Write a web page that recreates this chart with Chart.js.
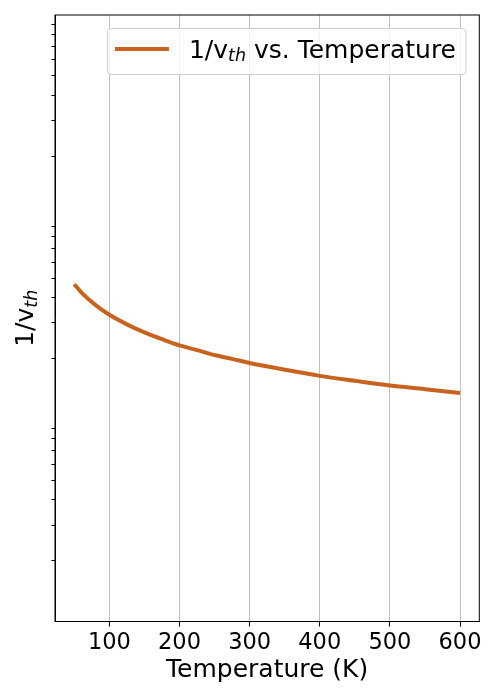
<!DOCTYPE html>
<html>
<head>
<meta charset="utf-8">
<script src="https://cdn.jsdelivr.net/npm/chart.js@4"></script>
<style>
  html, body { margin: 0; padding: 0; background: #fff; }
  #wrap { width: 500px; height: 700px; }
</style>
</head>
<body>
<div id="wrap"><canvas id="chart" width="500" height="700"></canvas></div>
<script>
// data
const TEMPS = [50, 60, 70, 85, 100, 125, 150, 175, 200, 225, 250, 275, 300,
               350, 400, 450, 500, 550, 600];
const INV_VTH = [4.66e-6, 4.25e-6, 3.94e-6, 3.57e-6, 3.29e-6, 2.95e-6, 2.69e-6,
                 2.49e-6, 2.32e-6, 2.20e-6, 2.08e-6, 1.99e-6, 1.90e-6,
                 1.76e-6, 1.64e-6, 1.55e-6, 1.47e-6, 1.41e-6, 1.35e-6];
const X_TICKS = [100, 200, 300, 400, 500, 600];
const X_RANGE = [22.5, 627.5];
const Y_RANGE = [1e-7, 1e-4];

const LINE_COLOR = '#c8621f';
const FONT = "'DejaVu Sans', sans-serif";

// minor log ticks only (major decades have no marks, no labels)
const minorTicks = () => {
    const out = [];
    const e0 = Math.round(Math.log10(Y_RANGE[0]));
    const e1 = Math.round(Math.log10(Y_RANGE[1]));
    for (let e = e0; e < e1; e++) {
        for (let k = 2; k <= 9; k++) out.push({ value: k * Math.pow(10, e) });
    }
    return out;
};

// draws "1/v" + subscript "th" (+ tail) starting at x, baseline y
const drawVth = (ctx, x, y, size, tail) => {
    ctx.font = `${size}px ${FONT}`;
    ctx.fillText('1/v', x, y);
    x += ctx.measureText('1/v').width;
    ctx.font = `italic ${size * 0.7}px ${FONT}`;
    ctx.fillText('th', x, y + size * 0.14);
    x += ctx.measureText('th').width;
    if (tail) {
        ctx.font = `${size}px ${FONT}`;
        ctx.fillText(tail, x, y);
    }
};

const measureVth = (ctx, size, tail) => {
    ctx.font = `${size}px ${FONT}`;
    let w = ctx.measureText('1/v').width + (tail ? ctx.measureText(tail).width : 0);
    ctx.font = `italic ${size * 0.7}px ${FONT}`;
    return w + ctx.measureText('th').width;
};

const decor = {
    id: 'decor',
    afterDraw: (chart) => {
        const ctx = chart.ctx;
        const ca = chart.chartArea;
        ctx.save();

        // frame
        ctx.strokeStyle = '#000';
        ctx.lineWidth = 1;
        ctx.strokeRect(ca.left, ca.top, ca.right - ca.left, ca.bottom - ca.top);

        // y title, rotated
        ctx.fillStyle = '#000';
        ctx.textBaseline = 'alphabetic';
        ctx.textAlign = 'left';
        const yw = measureVth(ctx, 25, '');
        ctx.save();
        ctx.translate(33, (ca.top + ca.bottom) / 2);
        ctx.rotate(-Math.PI / 2);
        drawVth(ctx, -yw / 2, 0, 25, '');
        ctx.restore();

        // legend
        const tail = ' vs. Temperature';
        const tw = measureVth(ctx, 25, tail);
        const bw = 7.5 + 54 + 20 + tw + 10, bh = 46;
        const bx = ca.right - 13.3 - bw, by = ca.top + 13.5;
        ctx.beginPath();
        ctx.roundRect(bx, by, bw, bh, 4);
        ctx.fillStyle = 'rgba(255,255,255,0.8)';
        ctx.fill();
        ctx.strokeStyle = '#cccccc';
        ctx.stroke();

        ctx.beginPath();
        ctx.moveTo(bx + 7.5, by + 20.5);
        ctx.lineTo(bx + 61.5, by + 20.5);
        ctx.strokeStyle = LINE_COLOR;
        ctx.lineWidth = 4;
        ctx.stroke();

        ctx.fillStyle = '#000';
        drawVth(ctx, bx + 81.5, by + 29, 25, tail);
        ctx.restore();
    }
};

new Chart(document.getElementById('chart'), {
    type: 'line',
    data: {
        datasets: [{
            label: '1/v_th vs. Temperature',
            data: TEMPS.map((t, i) => ({ x: t, y: INV_VTH[i] })),
            borderColor: LINE_COLOR,
            borderWidth: 4,
            pointRadius: 0,
            cubicInterpolationMode: 'monotone',
            fill: false
        }]
    },
    options: {
        responsive: false,
        animation: false,
        devicePixelRatio: 1,
        layout: { padding: { top: 15, right: 20.7, left: 0, bottom: 0 } },
        plugins: { legend: { display: false }, tooltip: { enabled: false } },
        scales: {
            x: {
                type: 'linear',
                min: X_RANGE[0],
                max: X_RANGE[1],
                afterBuildTicks: (s) => { s.ticks = X_TICKS.map(v => ({ value: v })); },
                afterFit: (s) => { s.height = 78.5; },
                grid: { color: '#b0b0b0', lineWidth: 0.8, tickColor: '#000', tickLength: 5, tickWidth: 1 },
                border: { color: '#000', width: 1 },
                ticks: { color: '#000', font: { family: FONT, size: 22.5 }, padding: 3.5,
                         autoSkip: false, maxRotation: 0 },
                title: { display: true, text: 'Temperature (K)', color: '#000',
                         font: { family: FONT, size: 25 }, padding: { top: 0, bottom: 14.4 } }
            },
            y: {
                type: 'logarithmic',
                min: Y_RANGE[0],
                max: Y_RANGE[1],
                afterBuildTicks: (s) => { s.ticks = minorTicks(); },
                afterFit: (s) => { s.width = 55; },
                grid: { drawOnChartArea: false, tickColor: '#000', tickLength: 3.5, tickWidth: 1 },
                border: { color: '#000', width: 1 },
                ticks: { display: false }
            }
        }
    },
    plugins: [decor]
});
</script>
</body>
</html>
